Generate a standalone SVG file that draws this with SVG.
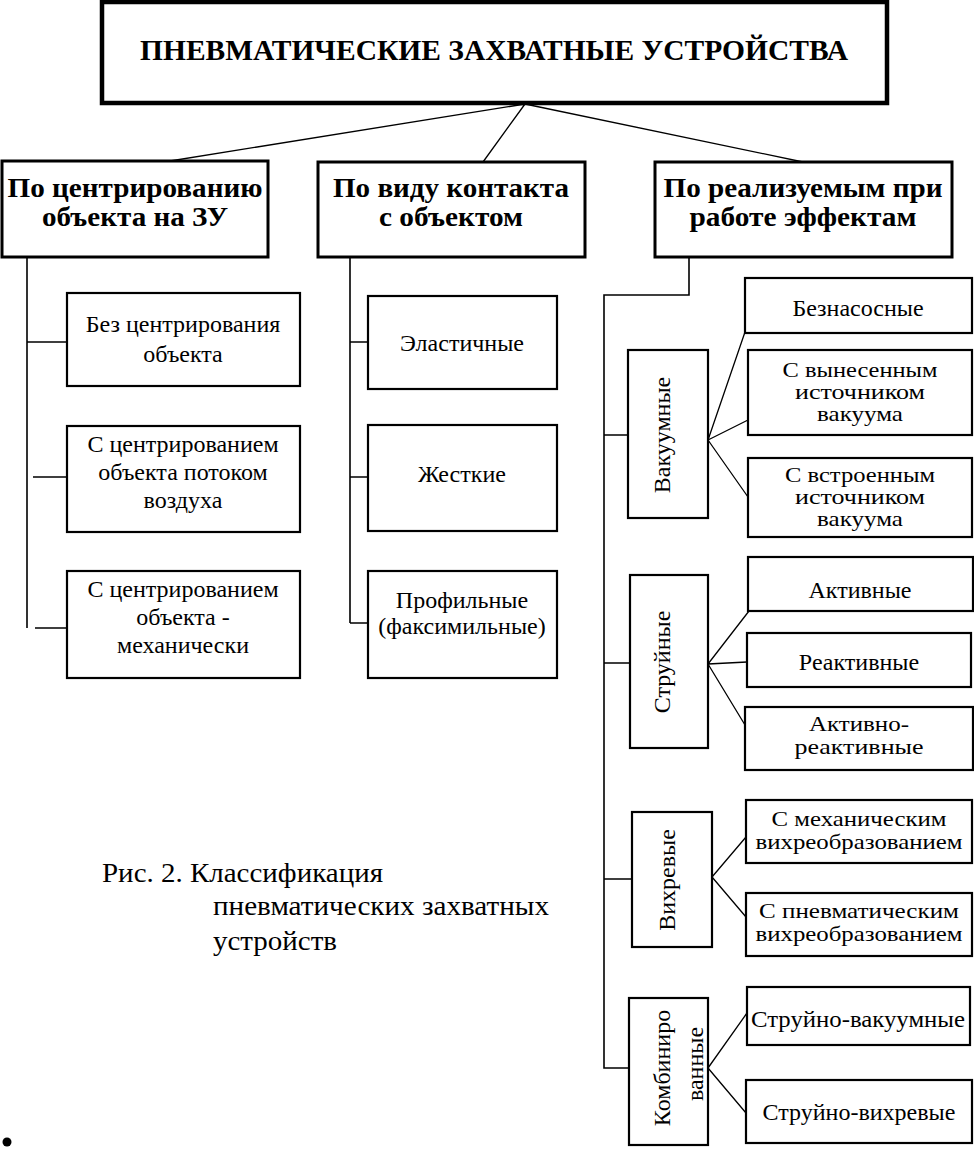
<svg xmlns="http://www.w3.org/2000/svg" width="974" height="1152" viewBox="0 0 974 1152">
<style>
  .box { fill: #fff; stroke: #000; stroke-width: 2.2; }
  .cat { fill: #fff; stroke: #000; stroke-width: 3; }
  .ttl { fill: #fff; stroke: #000; stroke-width: 4.5; }
  .ln { fill: none; stroke: #000; stroke-width: 1.6; }
  .thin { fill: none; stroke: #000; stroke-width: 1.3; }
  text { font-family: "Liberation Serif", "Times New Roman", serif; fill: #000; }
  .b { font-weight: bold; font-size: 28px; text-anchor: middle; }
  .t { font-size: 24px; text-anchor: middle; }
  .s { font-size: 21px; text-anchor: middle; }
  .cap { font-size: 28px; }
</style>
<rect width="974" height="1152" fill="#fff"/>

<g id="connectors">
  <path class="thin" d="M525,104 L170,161 M525,104 L483,162 M525,104 L803,162"/>
  <path class="ln" d="M27,257 V628 M27,342 H67 M33,477 H67 M35,628 H67"/>
  <path class="ln" d="M350,257 V623 M350,342 H368 M350,477 H368 M350,623 H368"/>
  <path class="ln" d="M689,257 V295 H604 V1068 H629 M604,435 H628 M604,663 H630 M604,879 H632"/>
  <path class="thin" d="M708,440 L745,332 M708,440 L748,420 M708,440 L748,497"/>
  <path class="thin" d="M708,664 L749,611 M708,664 L747,662 M708,664 L745,725"/>
  <path class="thin" d="M712,877 L746,837 M712,877 L746,917"/>
  <path class="thin" d="M708,1068 L747,1013 M708,1068 L746,1113"/>
</g>

<g id="title">
  <rect class="ttl" x="102" y="2" width="785" height="101"/>
  <text class="b" x="494" y="60" style="font-size:30px" textLength="708" lengthAdjust="spacingAndGlyphs">ПНЕВМАТИЧЕСКИЕ ЗАХВАТНЫЕ УСТРОЙСТВА</text>
</g>

<g id="cat-center">
  <rect class="cat" x="2" y="161" width="266" height="96"/>
  <text class="b" x="135" y="197" textLength="255" lengthAdjust="spacingAndGlyphs">По центрированию</text>
  <text class="b" x="135" y="226" textLength="186" lengthAdjust="spacingAndGlyphs">объекта на ЗУ</text>
</g>
<g id="cat-contact">
  <rect class="cat" x="318" y="162" width="267" height="95"/>
  <text class="b" x="451" y="197" textLength="236" lengthAdjust="spacingAndGlyphs">По виду контакта</text>
  <text class="b" x="451" y="226" textLength="144" lengthAdjust="spacingAndGlyphs">с объектом</text>
</g>
<g id="cat-effects">
  <rect class="cat" x="655" y="162" width="297" height="95"/>
  <text class="b" x="803" y="197" textLength="279" lengthAdjust="spacingAndGlyphs">По реализуемым при</text>
  <text class="b" x="803" y="226" textLength="227" lengthAdjust="spacingAndGlyphs">работе эффектам</text>
</g>

<g id="no-centering">
  <rect class="box" x="67" y="293" width="233" height="93"/>
  <text class="t" x="183" y="332">Без центрирования</text>
  <text class="t" x="183" y="362">объекта</text>
</g>
<g id="air-centering">
  <rect class="box" x="67" y="426" width="233" height="106"/>
  <text class="t" x="183" y="452">С центрированием</text>
  <text class="t" x="183" y="480">объекта потоком</text>
  <text class="t" x="183" y="508">воздуха</text>
</g>
<g id="mech-centering">
  <rect class="box" x="67" y="571" width="233" height="107"/>
  <text class="t" x="183" y="597">С центрированием</text>
  <text class="t" x="183" y="625">объекта -</text>
  <text class="t" x="183" y="653">механически</text>
</g>

<g id="elastic">
  <rect class="box" x="368" y="296" width="189" height="93"/>
  <text class="t" x="462" y="351">Эластичные</text>
</g>
<g id="rigid">
  <rect class="box" x="368" y="425" width="189" height="106"/>
  <text class="t" x="462" y="482">Жесткие</text>
</g>
<g id="profile">
  <rect class="box" x="368" y="571" width="189" height="107"/>
  <text class="t" x="462" y="608">Профильные</text>
  <text class="t" x="462" y="634">(факсимильные)</text>
</g>

<g id="vacuum">
  <rect class="box" x="628" y="350" width="80" height="168"/>
  <text class="t" transform="translate(670,435) rotate(-90)" x="0" y="0">Вакуумные</text>
</g>
<g id="pumpless">
  <rect class="box" x="745" y="278" width="227" height="55"/>
  <text class="t" x="858" y="316">Безнасосные</text>
</g>
<g id="external-source">
  <rect class="box" x="748" y="350" width="224" height="85"/>
  <text class="s" x="860" y="377" textLength="155" lengthAdjust="spacingAndGlyphs">С вынесенным</text>
  <text class="s" x="860" y="399" textLength="130" lengthAdjust="spacingAndGlyphs">источником</text>
  <text class="s" x="860" y="421" textLength="86" lengthAdjust="spacingAndGlyphs">вакуума</text>
</g>
<g id="built-in-source">
  <rect class="box" x="748" y="458" width="224" height="79"/>
  <text class="s" x="860" y="482" textLength="150" lengthAdjust="spacingAndGlyphs">С встроенным</text>
  <text class="s" x="860" y="504" textLength="130" lengthAdjust="spacingAndGlyphs">источником</text>
  <text class="s" x="860" y="526" textLength="86" lengthAdjust="spacingAndGlyphs">вакуума</text>
</g>

<g id="jet">
  <rect class="box" x="630" y="575" width="78" height="173"/>
  <text class="t" transform="translate(670,662) rotate(-90)" x="0" y="0">Струйные</text>
</g>
<g id="active">
  <rect class="box" x="748" y="557" width="225" height="54"/>
  <text class="t" x="860" y="598">Активные</text>
</g>
<g id="reactive">
  <rect class="box" x="747" y="633" width="224" height="54"/>
  <text class="t" x="859" y="670">Реактивные</text>
</g>
<g id="active-reactive">
  <rect class="box" x="745" y="707" width="228" height="63"/>
  <text class="s" x="859" y="731" textLength="100" lengthAdjust="spacingAndGlyphs">Активно-</text>
  <text class="s" x="859" y="754" textLength="129" lengthAdjust="spacingAndGlyphs">реактивные</text>
</g>

<g id="vortex">
  <rect class="box" x="632" y="812" width="80" height="135"/>
  <text class="t" transform="translate(675,880) rotate(-90)" x="0" y="0">Вихревые</text>
</g>
<g id="mech-vortex">
  <rect class="box" x="746" y="800" width="226" height="63"/>
  <text class="s" x="859" y="826" textLength="175" lengthAdjust="spacingAndGlyphs">С механическим</text>
  <text class="s" x="859" y="849" textLength="207" lengthAdjust="spacingAndGlyphs">вихреобразованием</text>
</g>
<g id="pneu-vortex">
  <rect class="box" x="746" y="893" width="226" height="63"/>
  <text class="s" x="859" y="918" textLength="200" lengthAdjust="spacingAndGlyphs">С пневматическим</text>
  <text class="s" x="859" y="941" textLength="207" lengthAdjust="spacingAndGlyphs">вихреобразованием</text>
</g>

<g id="combined">
  <rect class="box" x="629" y="998" width="79" height="147"/>
  <text class="t" transform="translate(670,1068) rotate(-90)" x="0" y="0">Комбиниро</text>
  <text class="t" transform="translate(703,1064) rotate(-90)" x="0" y="0">ванные</text>
</g>
<g id="jet-vacuum">
  <rect class="box" x="747" y="987" width="223" height="58"/>
  <text class="t" x="858" y="1027" textLength="214" lengthAdjust="spacingAndGlyphs">Струйно-вакуумные</text>
</g>
<g id="jet-vortex">
  <rect class="box" x="746" y="1080" width="226" height="63"/>
  <text class="t" x="859" y="1120">Струйно-вихревые</text>
</g>

<g id="caption">
  <text class="cap" x="102" y="882" textLength="281" lengthAdjust="spacingAndGlyphs">Рис. 2. Классификация</text>
  <text class="cap" x="213" y="915" textLength="336" lengthAdjust="spacingAndGlyphs">пневматических захватных</text>
  <text class="cap" x="213" y="950" textLength="124" lengthAdjust="spacingAndGlyphs">устройств</text>
</g>
<circle cx="7" cy="1142" r="4.5" fill="#000"/>
</svg>
